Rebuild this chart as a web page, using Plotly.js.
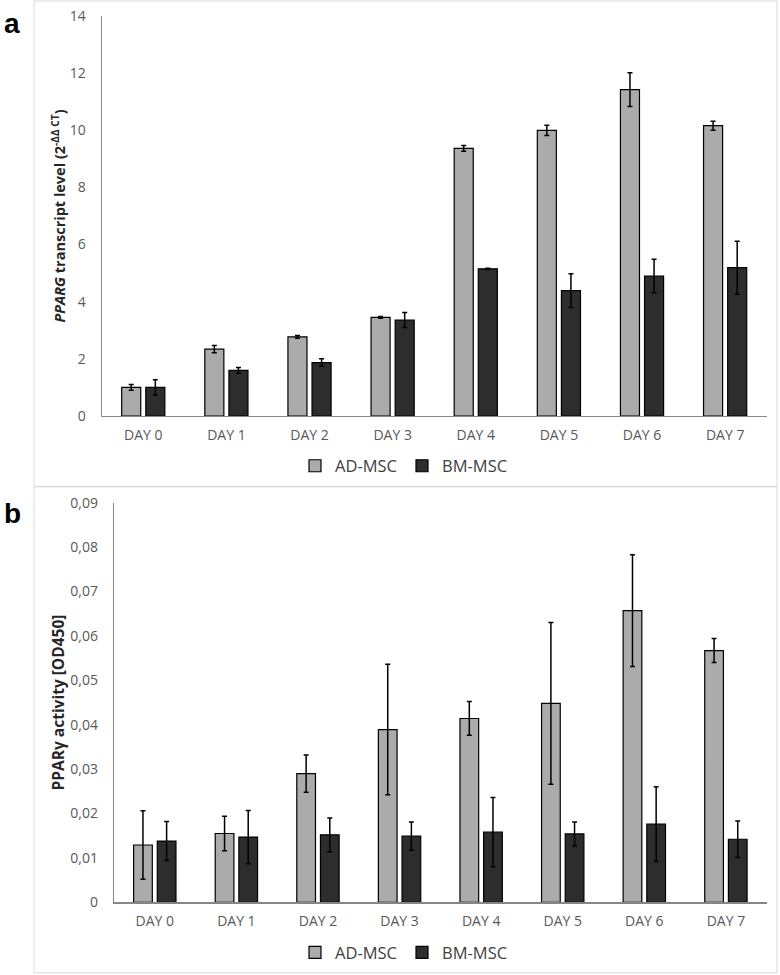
<!DOCTYPE html>
<html>
<head>
<meta charset="utf-8">
<script src="https://cdn.plot.ly/plotly-3.0.1.min.js"></script>
<style>html,body{margin:0;padding:0;background:#fff;}#chart{width:780px;height:975px;}</style>
</head>
<body>
<div id="chart"></div>
<script>
// ---- data ----
const days = ['DAY 0', 'DAY 1', 'DAY 2', 'DAY 3', 'DAY 4', 'DAY 5', 'DAY 6', 'DAY 7'];
const seriesNames = ['AD-MSC', 'BM-MSC'];

// panel a: PPARG transcript level (2^-ΔΔCT)
const adTranscript    = [1.00, 2.34, 2.77, 3.45, 9.37, 10.00, 11.42, 10.16];
const adTranscriptErr = [0.10, 0.13, 0.05, 0.03, 0.10, 0.18, 0.59, 0.16];
const bmTranscript    = [1.00, 1.60, 1.87, 3.36, 5.15, 4.39, 4.90, 5.19];
const bmTranscriptErr = [0.27, 0.10, 0.13, 0.26, 0.02, 0.59, 0.59, 0.93];

// panel b: PPARγ activity [OD450]
const adActivity    = [0.0129, 0.0155, 0.0290, 0.0389, 0.0414, 0.0448, 0.0657, 0.0567];
const adActivityErr = [0.0077, 0.0039, 0.0042, 0.0147, 0.0038, 0.0182, 0.0126, 0.0027];
const bmActivity    = [0.0138, 0.0147, 0.0152, 0.0149, 0.0158, 0.0154, 0.0176, 0.0142];
const bmActivityErr = [0.0044, 0.0060, 0.0038, 0.0032, 0.0078, 0.0027, 0.0084, 0.0041];

// ---- styles ----
const W = 780, H = 975;
const px = v => v / W;
const py = v => 1 - v / H;
const FONT = 'Open Sans, Noto Sans, sans-serif';
const adColor = '#ababab';
const bmColor = '#2d2d2d';
const tickFont = {family: FONT, size: 14, color: '#595959'};

function barTrace(name, y, err, color, xa, ya, legend) {
  return {
    type: 'bar', name: name, x: days, y: y,
    xaxis: xa, yaxis: ya, legend: legend, showlegend: true,
    marker: {color: color, line: {color: '#000', width: 1.2}},
    error_y: {type: 'data', array: err, visible: true, color: '#000', thickness: 1.5, width: 2.5},
    hoverinfo: 'skip'
  };
}

const traces = [
  barTrace(seriesNames[0], adTranscript, adTranscriptErr, adColor, 'x', 'y', 'legend'),
  barTrace(seriesNames[1], bmTranscript, bmTranscriptErr, bmColor, 'x', 'y', 'legend'),
  barTrace(seriesNames[0], adActivity, adActivityErr, adColor, 'x2', 'y2', 'legend2'),
  barTrace(seriesNames[1], bmActivity, bmActivityErr, bmColor, 'x2', 'y2', 'legend2')
];

const xBase = {
  type: 'category', showline: true, linecolor: '#868686', linewidth: 1.2,
  ticks: '', tickfont: tickFont, showgrid: false, zeroline: false, fixedrange: true,
  ticklabelstandoff: 6
};
const yBase = {
  showline: true, linecolor: '#868686', linewidth: 1.2, ticks: '',
  tickfont: tickFont, showgrid: false, zeroline: false, fixedrange: true,
  ticklabelstandoff: 12, automargin: false
};

const legendBase = {
  orientation: 'h', xanchor: 'center', yanchor: 'middle',
  font: {family: FONT, size: 16.5, color: '#404040'},
  bgcolor: 'rgba(0,0,0,0)', itemwidth: 30, tracegroupgap: 0
};

const layout = {
  width: W, height: H,
  margin: {l: 0, r: 0, t: 0, b: 0, pad: 0},
  paper_bgcolor: '#fff', plot_bgcolor: 'rgba(0,0,0,0)',
  separators: ', ',
  barmode: 'group', bargap: 0.42, bargroupgap: 0.21,
  showlegend: true,
  xaxis: Object.assign({}, xBase, {domain: [px(101.7), px(766.7)], anchor: 'y'}),
  yaxis: Object.assign({}, yBase, {
    domain: [py(416), py(16)], anchor: 'x', range: [0, 14], dtick: 2,
    title: {text: '<b><i>PPARG</i> transcript level (2<sup>-ΔΔ CT</sup>)</b>',
            font: {family: FONT, size: 14.5, color: '#262626'}, standoff: 0}
  }),
  xaxis2: Object.assign({}, xBase, {domain: [px(114), px(766.7)], anchor: 'y2'}),
  yaxis2: Object.assign({}, yBase, {
    domain: [py(902.3), py(502.7)], anchor: 'x2', range: [0, 0.09], dtick: 0.01,
    title: {text: '<b>PPARγ activity [OD450]</b>',
            font: {family: FONT, size: 15.5, color: '#262626'}, standoff: 2}
  }),
  legend: Object.assign({}, legendBase, {x: px(404), y: py(466)}),
  legend2: Object.assign({}, legendBase, {x: px(404), y: py(952.7)}),
  shapes: [
    {type: 'rect', xref: 'paper', yref: 'paper', x0: px(34), x1: px(777), y0: py(486.7), y1: py(1),
     line: {color: '#d9d9d9', width: 1}, fillcolor: 'rgba(0,0,0,0)', layer: 'below'},
    {type: 'rect', xref: 'paper', yref: 'paper', x0: px(34), x1: px(777), y0: py(972.7), y1: py(486.7),
     line: {color: '#d9d9d9', width: 1}, fillcolor: 'rgba(0,0,0,0)', layer: 'below'}
  ],
  annotations: [
    {text: '<b>a</b>', xref: 'paper', yref: 'paper', x: px(2), y: py(6), xanchor: 'left', yanchor: 'top',
     showarrow: false, font: {family: 'Liberation Sans, Arial, sans-serif', size: 28, color: '#000'}},
    {text: '<b>b</b>', xref: 'paper', yref: 'paper', x: px(2), y: py(496), xanchor: 'left', yanchor: 'top',
     showarrow: false, font: {family: 'Liberation Sans, Arial, sans-serif', size: 28, color: '#000'}}
  ]
};

Plotly.newPlot('chart', traces, layout, {staticPlot: true, displayModeBar: false});
</script>
</body>
</html>
